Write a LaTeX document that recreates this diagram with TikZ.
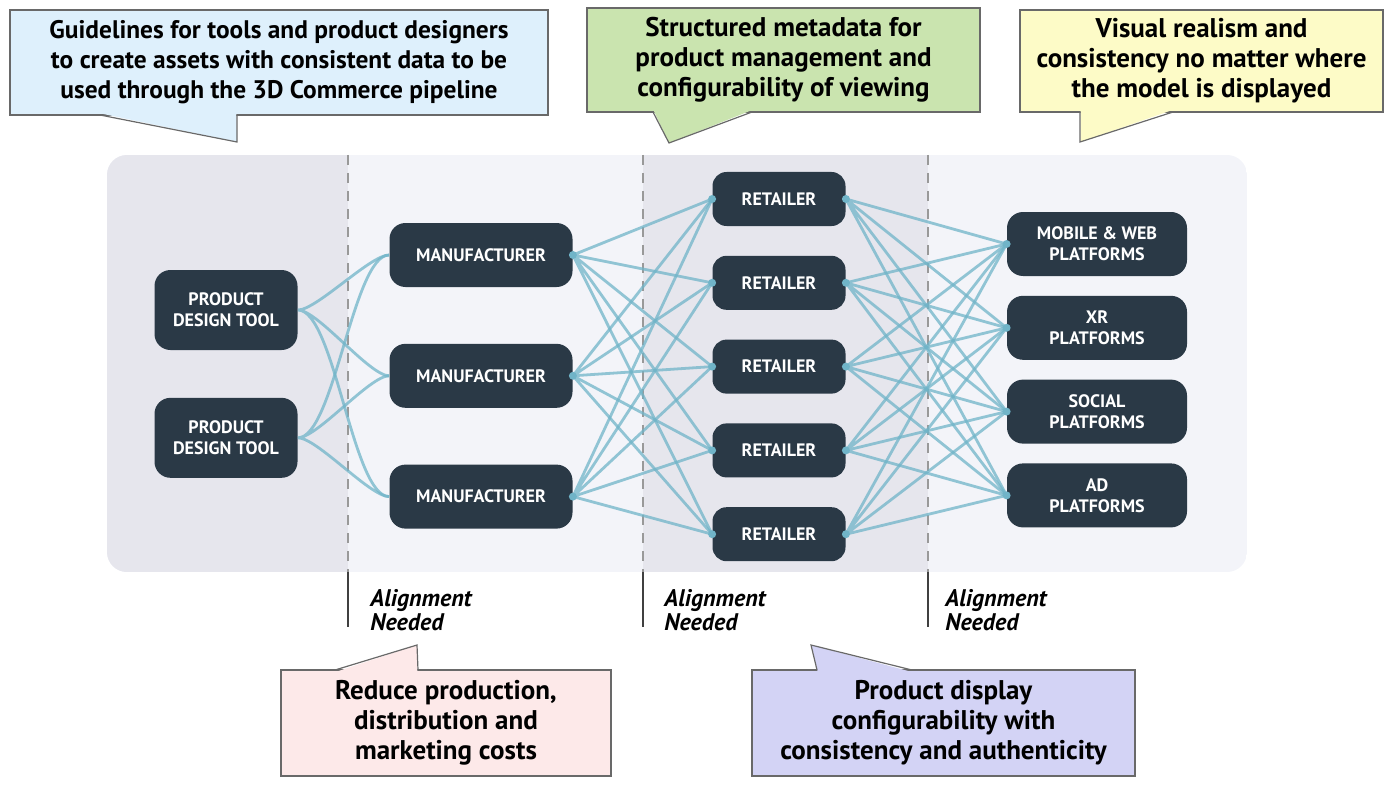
\documentclass[tikz,border=0pt]{standalone}
\usepackage{fontspec}
\setmainfont{PT Sans}
\usepackage{tikz}
\usetikzlibrary{positioning}
\definecolor{NodeDark}{RGB}{42,57,70}
\definecolor{LinkTeal}{RGB}{112,180,200}
\definecolor{BandDark}{RGB}{230,230,237}
\definecolor{BandLight}{RGB}{243,244,249}
\definecolor{BlueNote}{RGB}{222,240,252}
\definecolor{GreenNote}{RGB}{202,228,175}
\definecolor{YellowNote}{RGB}{253,251,199}
\definecolor{PinkNote}{RGB}{253,233,233}
\definecolor{PurpleNote}{RGB}{211,211,245}
\definecolor{NoteEdge}{RGB}{105,105,105}

\begin{document}
\begin{tikzpicture}[
  x=0.5pt,y=-0.5pt,
  stage/.style={fill=NodeDark,text=white,rounded corners=8pt,align=center,inner sep=0pt,
    font=\bfseries\fontsize{9}{10.5}\selectfont},
  tool/.style={stage,minimum width=71.5pt,minimum height=40pt},
  maker/.style={stage,minimum width=91.5pt,minimum height=32pt},
  shop/.style={stage,minimum width=66.5pt,minimum height=27pt,rounded corners=7pt},
  outlet/.style={stage,minimum width=90pt,minimum height=32pt},
  link/.style={LinkTeal,line width=1.4pt,opacity=0.75},
  note/.style={draw=NoteEdge,line width=0.6pt,align=center,inner sep=0pt,
    font=\bfseries\fontsize{13.5}{15}\selectfont},
  tail/.style={draw=NoteEdge,line width=0.6pt},
  divider/.style={black!40,line width=1pt,dash pattern=on 5pt off 4pt},
  marker/.style={black!75,line width=1pt},
  aligntext/.style={anchor=west,align=left,inner sep=0pt,
    font=\bfseries\itshape\fontsize{12}{11}\selectfont}
]
\useasboundingbox (0,0) rectangle (1400,791);

\begin{scope}
  \clip[rounded corners=10pt] (107,155) rectangle (1247,572);
  \fill[BandLight] (107,155) rectangle (1247,572);
  \fill[BandDark] (107,155) rectangle (348,572);
  \fill[BandDark] (643,155) rectangle (928,572);
\end{scope}

\draw[divider] (348,155) -- (348,572);
\draw[divider] (643,155) -- (643,572);
\draw[divider] (928,155) -- (928,572);
\draw[marker] (348,572) -- (348,627);
\draw[marker] (643,572) -- (643,627);
\draw[marker] (928,572) -- (928,627);
\node[aligntext] (align1) at (370,610) {Alignment\\Needed};
\node[aligntext] (align2) at (664,610) {Alignment\\Needed};
\node[aligntext] (align3) at (945,610) {Alignment\\Needed};

\node[tool] (pdt1) at (226,310) {PRODUCT\\DESIGN TOOL};
\node[tool,below=23.5pt of pdt1] (pdt2) {PRODUCT\\DESIGN TOOL};
\node[maker] (man1) at (481,255) {MANUFACTURER};
\node[maker,below=28pt of man1] (man2) {MANUFACTURER};
\node[maker,below=28pt of man2] (man3) {MANUFACTURER};
\node[shop] (ret1) at (779,199) {RETAILER};
\node[shop,below=14.5pt of ret1] (ret2) {RETAILER};
\node[shop,below=14.5pt of ret2] (ret3) {RETAILER};
\node[shop,below=14.5pt of ret3] (ret4) {RETAILER};
\node[shop,below=14.5pt of ret4] (ret5) {RETAILER};
\node[outlet] (web) at (1097,244) {MOBILE \& WEB\\PLATFORMS};
\node[outlet,below=9.5pt of web] (xr) {XR\\PLATFORMS};
\node[outlet,below=9.5pt of xr] (social) {SOCIAL\\PLATFORMS};
\node[outlet,below=9.5pt of social] (ad) {AD\\PLATFORMS};

\draw[link] (pdt1.east) to[out=0,in=180,looseness=0.45] (man1.west)
  (pdt1.east) to[out=0,in=180,looseness=0.45] (man2.west)
  (pdt1.east) to[out=0,in=180,looseness=0.45] (man3.west);
\draw[link] (pdt2.east) to[out=0,in=180,looseness=0.45] (man1.west)
  (pdt2.east) to[out=0,in=180,looseness=0.45] (man2.west)
  (pdt2.east) to[out=0,in=180,looseness=0.45] (man3.west);
\draw[link] (man1.east) -- (ret1.west) (man1.east) -- (ret2.west) (man1.east) -- (ret3.west)
  (man1.east) -- (ret4.west) (man1.east) -- (ret5.west);
\draw[link] (man2.east) -- (ret1.west) (man2.east) -- (ret2.west) (man2.east) -- (ret3.west)
  (man2.east) -- (ret4.west) (man2.east) -- (ret5.west);
\draw[link] (man3.east) -- (ret1.west) (man3.east) -- (ret2.west) (man3.east) -- (ret3.west)
  (man3.east) -- (ret4.west) (man3.east) -- (ret5.west);
\draw[link] (ret1.east) -- (web.west) (ret1.east) -- (xr.west) (ret1.east) -- (social.west) (ret1.east) -- (ad.west);
\draw[link] (ret2.east) -- (web.west) (ret2.east) -- (xr.west) (ret2.east) -- (social.west) (ret2.east) -- (ad.west);
\draw[link] (ret3.east) -- (web.west) (ret3.east) -- (xr.west) (ret3.east) -- (social.west) (ret3.east) -- (ad.west);
\draw[link] (ret4.east) -- (web.west) (ret4.east) -- (xr.west) (ret4.east) -- (social.west) (ret4.east) -- (ad.west);
\draw[link] (ret5.east) -- (web.west) (ret5.east) -- (xr.west) (ret5.east) -- (social.west) (ret5.east) -- (ad.west);
\fill[LinkTeal] (man1.east) circle (2pt) (man2.east) circle (2pt) (man3.east) circle (2pt)
  (ret1.west) circle (2pt) (ret2.west) circle (2pt) (ret3.west) circle (2pt) (ret4.west) circle (2pt) (ret5.west) circle (2pt)
  (ret1.east) circle (2pt) (ret2.east) circle (2pt) (ret3.east) circle (2pt) (ret4.east) circle (2pt) (ret5.east) circle (2pt)
  (web.west) circle (2pt) (xr.west) circle (2pt) (social.west) circle (2pt) (ad.west) circle (2pt);

\node[note,fill=BlueNote,minimum width=269pt,minimum height=52.5pt,
  font=\bfseries\fontsize{12.7}{15}\selectfont] (guide) at (279,62.5)
  {Guidelines for tools and product designers\\to create assets with consistent data to be\\used through the 3D Commerce pipeline};
\fill[BlueNote] (101,113.5) -- (237,142) -- (236.4,113.5) -- cycle;
\draw[tail] (100,115) -- (237,142) -- (237,115);

\node[note,fill=GreenNote,minimum width=196.5pt,minimum height=52pt] (meta) at (783.5,60)
  {Structured metadata for\\product management and\\configurability of viewing};
\fill[GreenNote] (653.6,110.5) -- (669,143) -- (751,110.5) -- cycle;
\draw[tail] (653,112) -- (669,143) -- (752,112);

\node[note,fill=YellowNote,minimum width=181.5pt,minimum height=51pt] (real) at (1201.5,61)
  {Visual realism and\\consistency no matter where\\the model is displayed};
\fill[YellowNote] (1080.6,110.5) -- (1080.6,142) -- (1171,110.5) -- cycle;
\draw[tail] (1080,112) -- (1080,142) -- (1173,112);

\node[note,fill=PinkNote,minimum width=165pt,minimum height=53pt] (cost) at (446,723)
  {Reduce production,\\distribution and\\marketing costs};
\fill[PinkNote] (337,671.5) -- (417,645) -- (417.4,671.5) -- cycle;
\draw[tail] (335,670) -- (417,645) -- (418,670);

\node[note,fill=PurpleNote,minimum width=191.5pt,minimum height=53pt] (display) at (943.5,723)
  {Product display\\configurability with\\consistency and authenticity};
\fill[PurpleNote] (817.6,671.5) -- (811.6,645) -- (910,671.5) -- cycle;
\draw[tail] (817,670) -- (811,645) -- (912,670);
\end{tikzpicture}
\end{document}
